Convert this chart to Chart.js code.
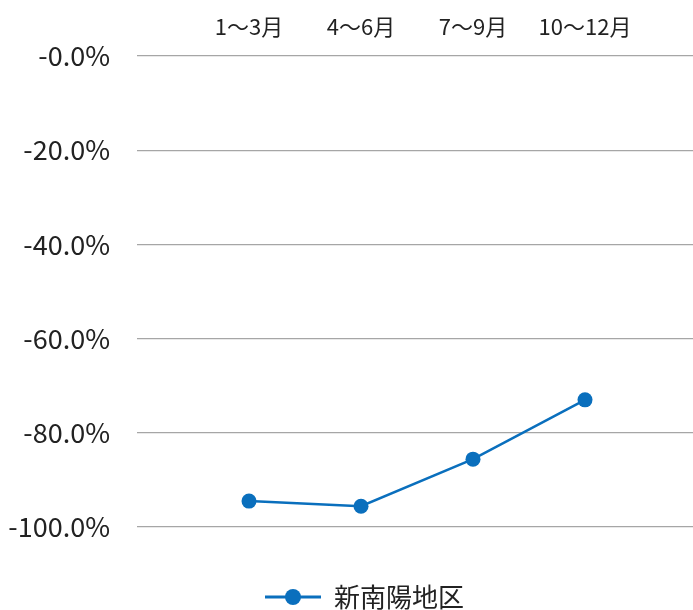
<!DOCTYPE html>
<html>
<head>
<meta charset="utf-8">
<script src="https://cdn.jsdelivr.net/npm/chart.js@4"></script>
<style>
  html, body { margin: 0; padding: 0; overflow: hidden; background: #fff; }
  canvas { display: block; }
</style>
</head>
<body>
<canvas id="lineChart" width="697" height="610"></canvas>
<script>
// data
const quarters = ["1〜3月", "4〜6月", "7〜9月", "10〜12月"];
const seriesName = "新南陽地区";
const values = [-94.5, -95.6, -85.6, -73.0];
const yMin = -100;
const yMax = 0;
const yStep = 20;

const lineColor = "#0a6fbd";
const font = "'Noto Sans CJK JP', 'Noto Sans', sans-serif";

// empty slots either side so the points sit like the original
const labels = [""].concat(quarters, [""]);
const data = [null].concat(values, [null]);

// legend marker: short line with a dot
function legendMarker() {
  const c = document.createElement("canvas");
  c.width = 56;
  c.height = 20;
  const ctx = c.getContext("2d");
  ctx.strokeStyle = lineColor;
  ctx.lineWidth = 3;
  ctx.beginPath();
  ctx.moveTo(0, 10);
  ctx.lineTo(56, 10);
  ctx.stroke();
  ctx.fillStyle = lineColor;
  ctx.beginPath();
  ctx.arc(28, 10, 8, 0, Math.PI * 2);
  ctx.fill();
  return c;
}

const marker = legendMarker();

function noSidePadding(scale) {
  scale.paddingLeft = 0;
  scale.paddingRight = 0;
}

// the original legend sits a bit right of the canvas centre
const legendShift = {
  id: "legendShift",
  afterLayout(chart) {
    if (chart.legend) {
      chart.legend.left += 16;
      chart.legend.right += 16;
    }
  }
};

new Chart(document.getElementById("lineChart"), {
  type: "line",
  data: {
    labels: labels,
    datasets: [{
      label: seriesName,
      data: data,
      borderColor: lineColor,
      backgroundColor: lineColor,
      borderWidth: 2.5,
      pointRadius: 7.5,
      pointHoverRadius: 7.5,
      pointBackgroundColor: lineColor,
      pointBorderWidth: 0,
      tension: 0,
      xAxisID: "x"
    }]
  },
  plugins: [legendShift],
  options: {
    responsive: false,
    animation: false,
    layout: {
      autoPadding: false,
      padding: { top: 0, right: 0, bottom: -10, left: 0 }
    },
    plugins: {
      legend: {
        position: "bottom",
        labels: {
          usePointStyle: true,
          pointStyleWidth: 56,
          color: "#222",
          font: { size: 26, family: font },
          padding: 0,
          generateLabels: function (chart) {
            return [{
              text: seriesName,
              pointStyle: marker,
              fillStyle: lineColor,
              strokeStyle: lineColor,
              lineWidth: 0,
              fontColor: "#222",
              datasetIndex: 0
            }];
          }
        }
      },
      tooltip: { enabled: false }
    },
    scales: {
      x: {
        position: "top",
        offset: false,
        grid: { display: false, drawTicks: false },
        border: { display: false },
        ticks: {
          color: "#222",
          font: { size: 22, family: font },
          padding: 16,
          maxRotation: 0,
          autoSkip: false
        },
        afterFit: function (scale) {
          scale.height = 56;
          noSidePadding(scale);
        }
      },
      // empty bottom axis, only keeps the gap above the legend
      gap: {
        type: "category",
        position: "bottom",
        labels: labels,
        grid: { display: false, drawTicks: false },
        border: { display: false },
        ticks: { display: false },
        afterFit: function (scale) {
          scale.height = 57;
          noSidePadding(scale);
        }
      },
      y: {
        min: yMin,
        max: yMax,
        grid: { color: "#a6a6a6", lineWidth: 1.2, drawTicks: false },
        border: { display: false },
        ticks: {
          stepSize: yStep,
          color: "#222",
          font: { size: 27, family: font },
          padding: 27,
          callback: function (v) {
            return v === 0 ? "-0.0%" : v.toFixed(1) + "%";
          }
        },
        afterFit: function (scale) { scale.width = 137; }
      }
    }
  }
});
</script>
</body>
</html>
